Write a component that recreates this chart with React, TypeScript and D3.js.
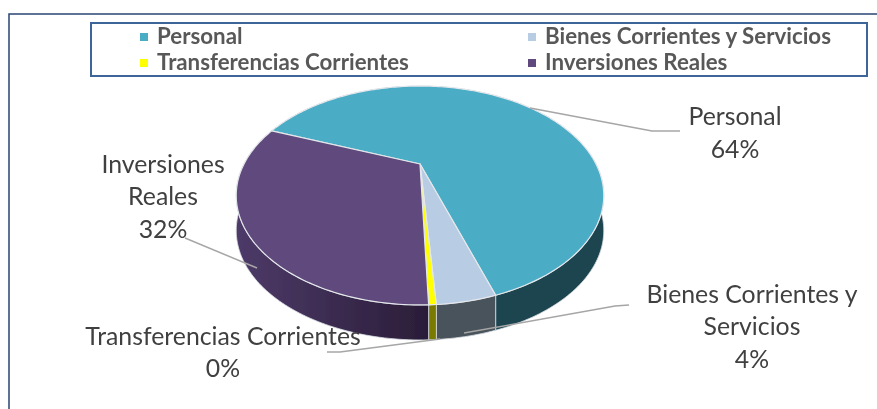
import React from "react";
import * as d3 from "d3";

const categories = ["Personal", "Bienes Corrientes y Servicios", "Transferencias Corrientes", "Inversiones Reales"];
const values = [64.0, 4.0, 0.5, 31.5];
const topColors = ["#4bacc6", "#b8cce4", "#ffff00", "#604a7b"];
const sideColors = ["#1c444f", "#4a535b", "#7a7a00", "url(#purpleSide)"];

const W = 877, H = 409;
const cx = 420, cy = 164, B = 176, A = 100.4, K = -0.2877, DEPTH = 35;
const START = (-68.6 * Math.PI) / 180;

const project = (a: number): [number, number] => {
  const u = Math.sin(a), v = -Math.cos(a), w = 1 + K * v;
  return [cx + (B * u) / w, cy + (A * v) / w];
};

const pie = d3.pie<number>().sort(null).startAngle(START).endAngle(START + 2 * Math.PI);
const arcs = pie(values);
const line = d3.line();
const samples = (s: number, e: number) => {
  const n = Math.max(2, Math.ceil((e - s) / 0.02));
  return d3.range(n + 1).map((i) => project(s + ((e - s) * i) / n));
};

const topPath = (s: number, e: number) => line([[cx, cy], ...samples(s, e)]) + "Z";
const sidePath = (s: number, e: number) => {
  const pts = samples(s, e);
  const low = pts.slice().reverse().map(([x, y]) => [x, y + DEPTH] as [number, number]);
  return line([...pts, ...low]) + "Z";
};

const legendX = [140, 528];
const legendY = [33, 59];
const leaders = [
  "M530,108L652,131L680,131",
  "M464,333L615,306L629,305",
  "M327,352L340,352L440,339",
  "M185,238L257,268",
];
const labels: [string, number, number][] = [
  ["Personal", 735, 125],
  ["64%", 735, 158],
  ["Bienes Corrientes y", 752, 303],
  ["Servicios", 752, 335],
  ["4%", 752, 368],
  ["Transferencias Corrientes", 223, 345],
  ["0%", 223, 377],
  ["Inversiones", 163, 173],
  ["Reales", 163, 205],
  ["32%", 163, 238],
];

export default function App() {
  return (
    <svg width={W} height={H} style={{ position: "absolute", left: 0, top: 0, background: "#fff" }}>
      <defs>
        <linearGradient id="purpleSide" gradientUnits="userSpaceOnUse" x1={237} x2={430} y1={0} y2={0}>
          <stop offset="0" stopColor="#4d3a68" />
          <stop offset="1" stopColor="#2a1d38" />
        </linearGradient>
        <filter id="soft" x="-5%" y="-5%" width="110%" height="110%">
          <feGaussianBlur stdDeviation="0.45" />
        </filter>
      </defs>
      <g filter="url(#soft)">
        <path d={`M9,${H}V14H${W}`} fill="none" stroke="#274671" strokeWidth={1.5} />
        <g>
          {arcs.map((d, i) => (
            <path key={i} d={sidePath(d.startAngle, d.endAngle)} fill={sideColors[i]} stroke="#d8dde2" strokeWidth={0.8} />
          ))}
          {arcs.map((d, i) => (
            <path key={i} d={topPath(d.startAngle, d.endAngle)} fill={topColors[i]} stroke="#e4e8ec" strokeWidth={1.2} strokeLinejoin="round" />
          ))}
        </g>
        {leaders.map((d, i) => (
          <path key={i} d={d} fill="none" stroke="#a6a6a6" strokeWidth={1.5} />
        ))}
        <rect x={91} y={23} width={776} height={53} fill="none" stroke="#3d6599" strokeWidth={2} />
        {categories.map((c, i) => {
          const x = legendX[i % 2], y = legendY[Math.floor(i / 2)];
          return (
            <g key={c}>
              <rect x={x} y={y} width={8} height={8} fill={topColors[i]} />
              <text x={x + 17} y={y + 11} fontFamily="Lato" fontWeight={700} fontSize={22.3} fill="#595959">{c}</text>
            </g>
          );
        })}
        {labels.map(([t, x, y], i) => (
          <text key={i} x={x} y={y} textAnchor="middle" fontFamily="Lato" fontSize={24.8} fill="#404040">{t}</text>
        ))}
      </g>
    </svg>
  );
}
